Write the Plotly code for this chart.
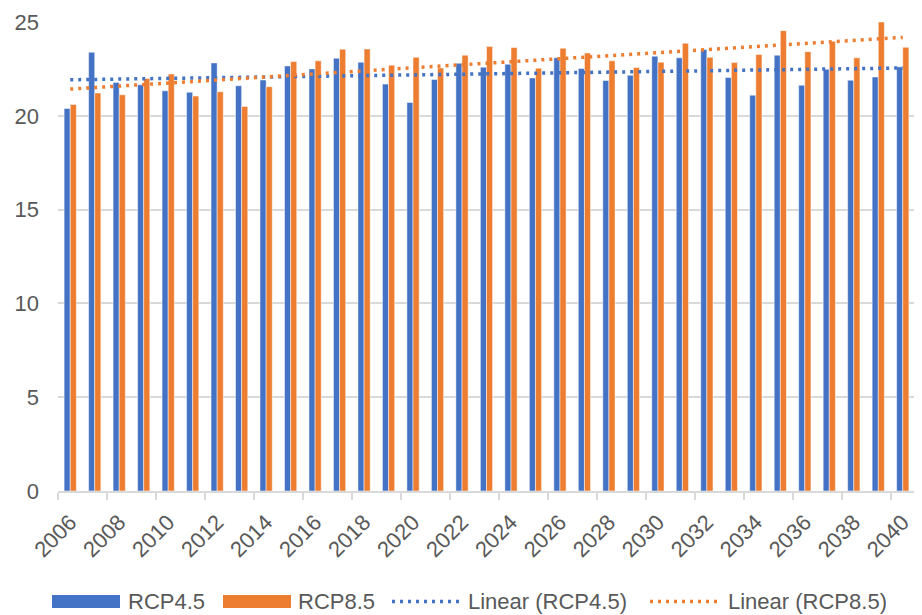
import numpy as np
import plotly.graph_objects as go

years = list(range(2006, 2041))
rcp45 = [20.39, 23.39, 21.78, 21.65, 21.33, 21.26, 22.82, 21.60, 21.91, 22.66,
         22.50, 23.07, 22.86, 21.69, 20.71, 21.94, 22.80, 22.59, 22.75, 22.02,
         23.10, 22.52, 21.88, 22.16, 23.18, 23.09, 23.53, 22.04, 21.10, 23.23,
         21.63, 22.48, 21.90, 22.07, 22.61]
rcp85 = [20.60, 21.22, 21.12, 21.99, 22.23, 21.05, 21.28, 20.50, 21.55, 22.89,
         22.93, 23.55, 23.56, 22.70, 23.12, 22.55, 23.23, 23.70, 23.64, 22.54,
         23.60, 23.35, 22.93, 22.57, 22.86, 23.87, 23.12, 22.84, 23.27, 24.54,
         23.42, 23.97, 23.09, 25.00, 23.65]
tick_labels = [str(y) for y in years[::2]]
series_names = ["RCP4.5", "RCP8.5", "Linear (RCP4.5)", "Linear (RCP8.5)"]

BLUE = "#4472C4"
ORANGE = "#ED7D31"
TXT = "#595959"
GRID = "#d9d9d9"
FONT = "Liberation Sans, Arial, sans-serif"
FS = 22

# page has an 8px body margin: size the figure so the plot area lands where the reference has it
OFF = 8
W, H = 922 - OFF, 615 - OFF
ML, MR, MT, MB = 58 - OFF, 7, 22 - OFF, 124
PW, PH = W - ML - MR, H - MT - MB

def px_x(p):  # page pixel -> paper
    return (p - OFF - ML) / PW

def px_y(p):
    return (H - MB - (p - OFF)) / PH

cats = [str(y) for y in years]
idx = np.arange(len(years))
t45 = np.polyval(np.polyfit(idx, rcp45, 1), idx)
t85 = np.polyval(np.polyfit(idx, rcp85, 1), idx)

fig = go.Figure()
bar_line = dict(color="rgba(255,255,255,0.7)", width=0.7)
fig.add_trace(go.Bar(x=cats, y=rcp45, name=series_names[0], marker=dict(color=BLUE, line=bar_line), showlegend=False))
fig.add_trace(go.Bar(x=cats, y=rcp85, name=series_names[1], marker=dict(color=ORANGE, line=bar_line), showlegend=False))
fig.add_trace(go.Scatter(x=cats, y=t45, mode="lines", name=series_names[2], line=dict(color=BLUE, dash="3px,5px", width=3.5), showlegend=False))
fig.add_trace(go.Scatter(x=cats, y=t85, mode="lines", name=series_names[3], line=dict(color=ORANGE, dash="3px,5px", width=3.5), showlegend=False))

# custom legend (Excel-style wide swatches)
legend_items = [
    ("rect", BLUE, 52, 120, series_names[0], 126),
    ("rect", ORANGE, 223, 291, series_names[1], 296),
    ("dot", BLUE, 392, 462, series_names[2], 466),
    ("dot", ORANGE, 650, 720, series_names[3], 726),
]
shapes = []
annotations = []
ly = 601.5
for kind, col, x0, x1, label, tx in legend_items:
    if kind == "rect":
        shapes.append(dict(type="rect", xref="paper", yref="paper",
                           x0=px_x(x0), x1=px_x(x1), y0=px_y(ly + 6.5), y1=px_y(ly - 6.5),
                           fillcolor=col, line=dict(width=0)))
    else:
        shapes.append(dict(type="line", xref="paper", yref="paper",
                           x0=px_x(x0), x1=px_x(x1), y0=px_y(ly), y1=px_y(ly),
                           line=dict(color=col, width=3.5, dash="3px,5px")))
    annotations.append(dict(xref="paper", yref="paper", x=px_x(tx), y=px_y(ly),
                            xanchor="left", yanchor="middle", showarrow=False,
                            text=label, font=dict(family=FONT, size=FS, color=TXT)))

fig.update_layout(
    width=W, height=H,
    margin=dict(l=ML, r=MR, t=MT, b=MB),
    paper_bgcolor="white", plot_bgcolor="white",
    barmode="group", bargap=0.5, bargroupgap=0.0,
    font=dict(family=FONT, size=FS, color=TXT),
    showlegend=False,
    shapes=shapes, annotations=annotations,
    xaxis=dict(type="category", tickmode="array", tickvals=tick_labels, ticktext=tick_labels,
               tickangle=-45, ticks="outside", tickson="boundaries", ticklen=7,
               tickcolor=GRID, tickwidth=1.5, showline=True, linecolor=GRID, linewidth=1.5,
               showgrid=False, automargin=False, ticklabelstandoff=8,
               tickfont=dict(size=FS, color=TXT)),
    yaxis=dict(range=[0, 25], tickvals=[0, 5, 10, 15, 20, 25], showgrid=True,
               gridcolor=GRID, gridwidth=1.5, zeroline=False, showline=False,
               ticks="", automargin=False, ticklabelstandoff=18,
               tickfont=dict(size=FS, color=TXT)),
)

fig.write_html("out.html")
